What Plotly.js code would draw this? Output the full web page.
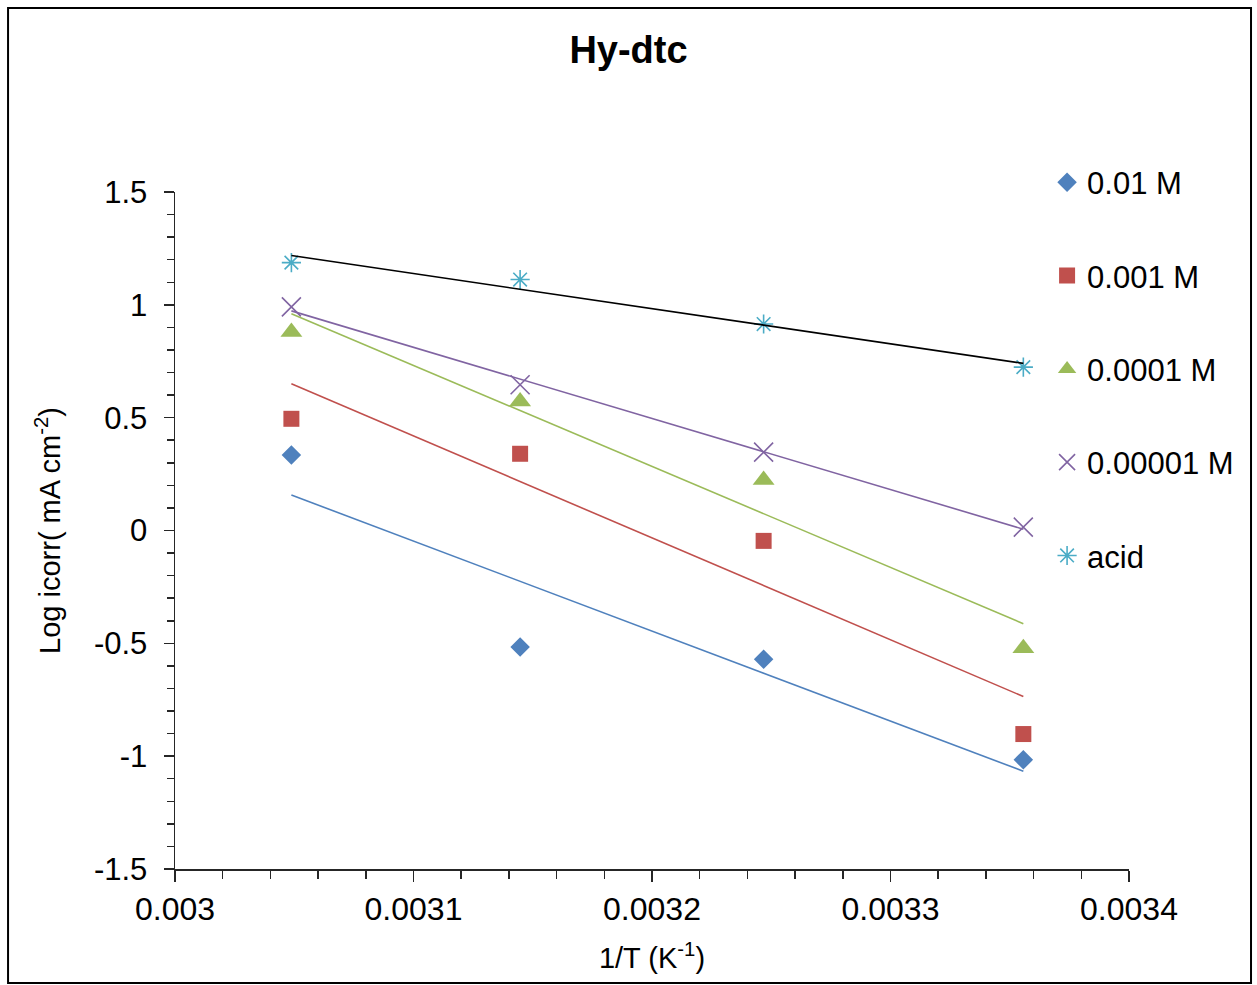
<!DOCTYPE html>
<html>
<head>
<meta charset="utf-8">
<script src="https://cdn.plot.ly/plotly-3.0.1.min.js"></script>
<style>
html,body{margin:0;padding:0;background:#fff;}
#chart{width:1257px;height:985px;}
</style>
</head>
<body>
<div id="chart"></div>
<script>
// Inverse temperature (1/T, K^-1) for 328, 318, 308, 298 K
var invT = [0.0030488, 0.0031447, 0.0032468, 0.0033557];

var seriesNames = ["0.01 M", "0.001 M", "0.0001 M", "0.00001 M", "acid"];
var logI_001 = [0.335, -0.516, -0.570, -1.016];
var logI_0001 = [0.495, 0.340, -0.046, -0.902];
var logI_00001 = [0.880, 0.572, 0.224, -0.522];
var logI_000001 = [0.991, 0.646, 0.347, 0.015];
var logI_acid = [1.187, 1.112, 0.915, 0.724];

var xTickVals = [0.003, 0.0031, 0.0032, 0.0033, 0.0034];
var xTickText = ["0.003", "0.0031", "0.0032", "0.0033", "0.0034"];
var yTickVals = [-1.5, -1, -0.5, 0, 0.5, 1, 1.5];
var yTickText = ["-1.5", "-1", "-0.5", "0", "0.5", "1", "1.5"];

var FONT = "Liberation Sans, Arial, sans-serif";

var styles = [
  {sym: "diamond", color: "#4F81BD", size: 15, lw: 0, trend: "#4F81BD"},
  {sym: "square", color: "#C0504D", size: 16, lw: 0, trend: "#C0504D"},
  {sym: "triangle-up", color: "#9BBB59", size: 19, lw: 0, trend: "#9BBB59"},
  {sym: "x-thin-open", color: "#8064A2", size: 19, lw: 1.6, trend: "#8064A2"},
  {sym: "asterisk-open", color: "#4BACC6", size: 16, lw: 1.6, trend: "#000000"}
];
var allY = [logI_001, logI_0001, logI_00001, logI_000001, logI_acid];

function linfit(xs, ys) {
  var n = xs.length, mx = 0, my = 0;
  for (var i = 0; i < n; i++) { mx += xs[i]; my += ys[i]; }
  mx /= n; my /= n;
  var sxy = 0, sxx = 0;
  for (var j = 0; j < n; j++) { sxy += (xs[j]-mx)*(ys[j]-my); sxx += (xs[j]-mx)*(xs[j]-mx); }
  var b = sxy / sxx, a = my - b*mx;
  return function(x){ return a + b*x; };
}

var traces = [];
for (var k = 0; k < allY.length; k++) {
  var s = styles[k];
  traces.push({
    x: invT, y: allY[k], type: "scatter", mode: "markers", name: seriesNames[k],
    legendgroup: "g" + k,
    marker: {symbol: s.sym, size: s.size, color: s.color, line: {color: s.color, width: s.lw}},
    cliponaxis: false
  });
}
for (var k2 = 0; k2 < allY.length; k2++) {
  var f = linfit(invT, allY[k2]);
  var x0 = invT[0], x1 = invT[invT.length-1];
  traces.push({
    x: [x0, x1], y: [f(x0), f(x1)], type: "scatter", mode: "lines",
    showlegend: false, hoverinfo: "skip",
    line: {color: styles[k2].trend, width: 1.6}
  });
}

var layout = {
  width: 1257, height: 985,
  paper_bgcolor: "#ffffff", plot_bgcolor: "#ffffff",
  margin: {l: 175, r: 128, t: 192, b: 116, autoexpand: false},
  font: {family: FONT, color: "#000000", size: 31},
  showlegend: true,
  title: {text: "<b>Hy-dtc</b>", font: {family: FONT, size: 38, color: "#000"},
          x: 0.5, xref: "container", y: 0.9495, yref: "container", yanchor: "middle"},
  xaxis: {
    range: [0.003, 0.0034], tickmode: "array", tickvals: xTickVals, ticktext: xTickText,
    showgrid: false, zeroline: false, showline: true, linecolor: "#262626", linewidth: 1.5,
    ticks: "outside", ticklen: 11, tickwidth: 1.5, tickcolor: "#262626",
    minor: {dtick: 0.00002, ticks: "outside", ticklen: 8, tickwidth: 1.5, tickcolor: "#262626", showgrid: false},
    tickfont: {family: FONT, size: 32, color: "#000"},
    title: {text: "1/T (K<sup>-1</sup>)", font: {family: FONT, size: 29, color: "#000"}, standoff: 22}
  },
  yaxis: {
    range: [-1.5, 1.5], tickmode: "array", tickvals: yTickVals, ticktext: yTickText,
    showgrid: false, zeroline: false, showline: true, linecolor: "#262626", linewidth: 1.5,
    ticks: "outside", ticklen: 10, tickwidth: 1.5, tickcolor: "#262626",
    minor: {dtick: 0.1, ticks: "outside", ticklen: 7, tickwidth: 1.5, tickcolor: "#262626", showgrid: false},
    tickfont: {family: FONT, size: 31, color: "#000"}, ticklabelstandoff: 10,
    title: {text: "Log icorr( mA cm<sup>-2</sup>)", font: {family: FONT, size: 29, color: "#000"}, standoff: 24}
  },
  legend: {
    xref: "container", yref: "container", x: 0.833, y: 0.842, xanchor: "left", yanchor: "top",
    traceorder: "grouped", tracegroupgap: 50, bgcolor: "rgba(0,0,0,0)",
    font: {family: FONT, size: 31, color: "#000"}, itemwidth: 30
  },
  shapes: [{
    type: "rect", xref: "paper", yref: "paper",
    x0: -0.175, x1: 1.1279, y0: -0.1684, y1: 1.2718,
    line: {color: "#000", width: 2}, fillcolor: "rgba(0,0,0,0)", layer: "below"
  }]
};

Plotly.newPlot("chart", traces, layout, {displayModeBar: false, staticPlot: true});
</script>
</body>
</html>
